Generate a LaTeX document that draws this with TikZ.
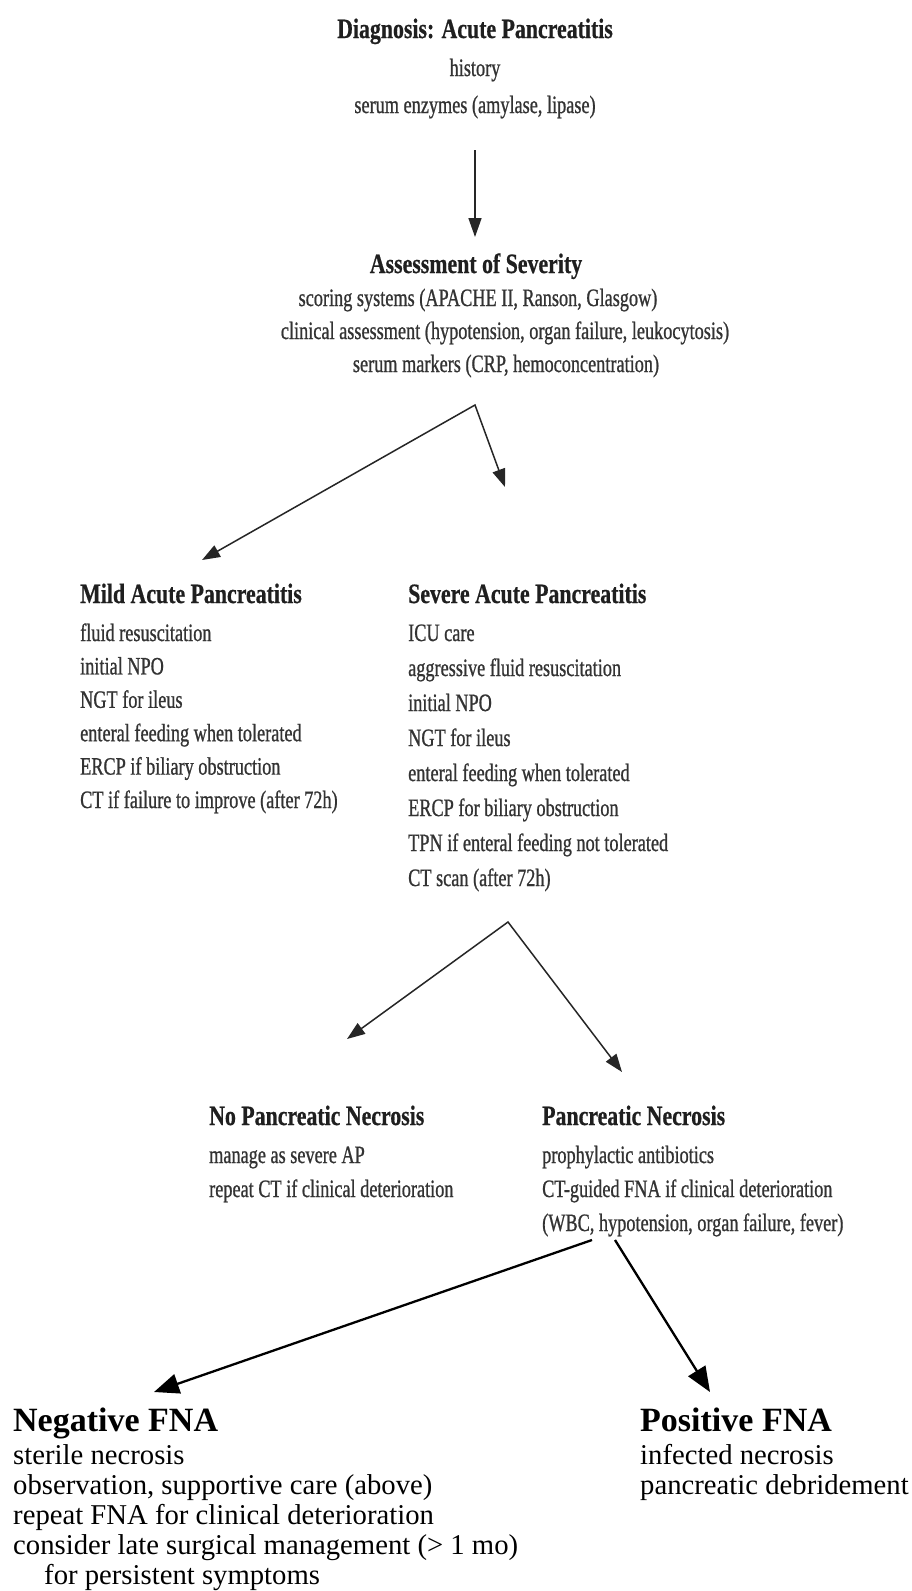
\documentclass[tikz,border=0pt]{standalone}
\usepackage{fontspec}
\usetikzlibrary{arrows.meta}
\newfontfamily\condfont[FakeStretch=0.73, FakeBold=0.8]{Liberation Serif}
\newfontfamily\headfont[FakeStretch=0.78, FakeBold=0.6]{Liberation Serif}
\newfontfamily\plainfont{Liberation Serif}
\tikzset{
  head/.style={font=\headfont\bfseries\fontsize{28}{30}\selectfont, inner sep=0pt, text=black!88},
  body/.style={font=\condfont\fontsize{25}{30}\selectfont, inner sep=0pt, text=black!80},
  bighead/.style={font=\plainfont\bfseries\fontsize{34}{36}\selectfont, inner sep=0pt, text=black},
  bigbody/.style={font=\plainfont\fontsize{28.7}{33}\selectfont, inner sep=0pt, text=black},
  thinarrow/.style={draw=black!85, line width=1.5pt, -{Triangle[length=19pt,width=13pt]}},
  thinfork/.style={draw=black!85, line width=1.5pt, {Triangle[length=18pt,width=13pt]}-{Triangle[length=18pt,width=13pt]}},
  thickarrow/.style={draw=black, line width=2.3pt, -{Triangle[length=25pt,width=20pt]}},
}
\begin{document}
\begin{tikzpicture}[x=1pt,y=-1pt]
\fill[white] (0,0) rectangle (912,1591);
\useasboundingbox (0,0) rectangle (912,1591);

% Diagnosis
\node[head, anchor=base] (diag) at (475,38) {Diagnosis: Acute Pancreatitis};
\node[body, anchor=base] (hist) at (475,76) {history};
\node[body, anchor=base] (enz) at (475,113) {serum enzymes (amylase, lipase)};

% Assessment
\node[head, anchor=base] (assess) at (476,273) {Assessment of Severity};
\node[body, anchor=base] (score) at (478,306) {scoring systems (APACHE II, Ranson, Glasgow)};
\node[body, anchor=base] (clin) at (505,339) {clinical assessment (hypotension, organ failure, leukocytosis)};
\node[body, anchor=base] (mark) at (506,372) {serum markers (CRP, hemoconcentration)};

\coordinate (a1s) at (475,150);
\coordinate (a1e) at (475,237);
\draw[thinarrow] (a1s) -- (a1e);

% fork 1
\coordinate (f1) at (475,405);
\coordinate (f1l) at (202,560);
\coordinate (f1r) at (505,487);
\draw[thinfork] (f1l) -- (f1) -- (f1r);

% Mild
\node[head, anchor=base west] (mild) at (80,603) {Mild Acute Pancreatitis};
\foreach \t [count=\i] in {{fluid resuscitation},{initial NPO},{NGT for ileus},{enteral feeding when tolerated},{ERCP if biliary obstruction},{CT if failure to improve (after 72h)}}
  \node[body, anchor=base west] (mild\i) at (80,{641+(\i-1)*33.4}) {\t};

% Severe
\node[head, anchor=base west] (sev) at (408,603) {Severe Acute Pancreatitis};
\foreach \t [count=\i] in {{ICU care},{aggressive fluid resuscitation},{initial NPO},{NGT for ileus},{enteral feeding when tolerated},{ERCP for biliary obstruction},{TPN if enteral feeding not tolerated},{CT scan (after 72h)}}
  \node[body, anchor=base west] (sev\i) at (408,{641+(\i-1)*35}) {\t};

% fork 2
\coordinate (f2) at (508,922);
\coordinate (f2l) at (347,1039);
\coordinate (f2r) at (622,1072);
\draw[thinfork] (f2l) -- (f2) -- (f2r);

% No necrosis
\node[head, anchor=base west] (nonec) at (209,1125) {No Pancreatic Necrosis};
\node[body, anchor=base west] (nonec1) at (209,1163) {manage as severe AP};
\node[body, anchor=base west] (nonec2) at (209,1197) {repeat CT if clinical deterioration};

% Necrosis
\node[head, anchor=base west] (nec) at (542,1125) {Pancreatic Necrosis};
\node[body, anchor=base west] (nec1) at (542,1163) {prophylactic antibiotics};
\node[body, anchor=base west] (nec2) at (542,1197) {CT-guided FNA if clinical deterioration};
\node[body, anchor=base west] (nec3) at (542,1231) {(WBC, hypotension, organ failure, fever)};

% fork 3
\coordinate (f3a) at (592,1240);
\coordinate (f3b) at (615,1240);
\coordinate (f3l) at (154,1392);
\coordinate (f3r) at (710,1392);
\draw[thickarrow] (f3a) -- (f3l);
\draw[thickarrow] (f3b) -- (f3r);

% Negative FNA
\node[bighead, anchor=base west] (neg) at (13,1431) {Negative FNA};
\node[bigbody, anchor=base west] (neg1) at (13,1464) {sterile necrosis};
\node[bigbody, anchor=base west] (neg2) at (13,1494) {observation, supportive care (above)};
\node[bigbody, anchor=base west] (neg3) at (13,1524) {repeat FNA for clinical deterioration};
\node[bigbody, anchor=base west] (neg4) at (13,1554) {consider late surgical management (> 1 mo)};
\node[bigbody, anchor=base west] (neg5) at (44,1584) {for persistent symptoms};

% Positive FNA
\node[bighead, anchor=base west] (pos) at (640,1431) {Positive FNA};
\node[bigbody, anchor=base west] (pos1) at (640,1464) {infected necrosis};
\node[bigbody, anchor=base west] (pos2) at (640,1494) {pancreatic debridement};
\end{tikzpicture}
\end{document}
